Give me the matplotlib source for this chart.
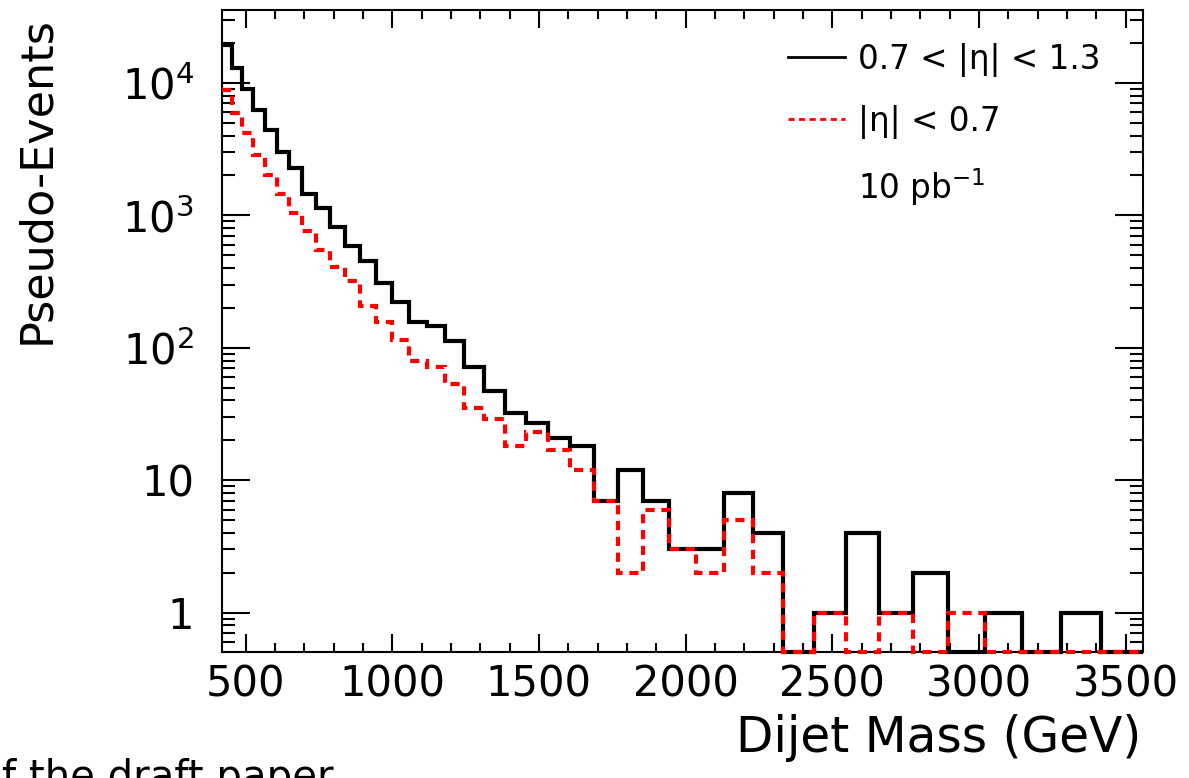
import numpy as np
import matplotlib
matplotlib.use("Agg")
import matplotlib.pyplot as plt
from matplotlib.lines import Line2D
from matplotlib.ticker import FixedLocator, MultipleLocator, LogLocator, NullFormatter

# dijet mass bin edges (GeV)
edges = [419, 453, 489, 526, 565, 606, 649, 693, 740, 788, 838, 890, 944, 1000,
         1058, 1118, 1181, 1246, 1313, 1383, 1455, 1530, 1607, 1687, 1770, 1856,
         1945, 2037, 2132, 2231, 2332, 2438, 2546, 2659, 2775, 2895, 3019, 3147,
         3279, 3416, 3558]

# 0.7 < |eta| < 1.3
outer = [19300, 12900, 8970, 6220, 4440, 3010, 2260, 1460, 1130, 818, 586, 454,
         306, 222, 157, 146, 112, 71, 47, 32, 27, 21, 18, 7, 12, 7, 3, 3, 8, 4,
         0, 1, 4, 1, 2, 0, 1, 0, 1, 0]
# |eta| < 0.7
inner = [8800, 5880, 4150, 2845, 2010, 1445, 1033, 764, 546, 404, 318, 207,
         156, 114, 80, 71, 53, 35, 29, 18, 23, 17, 12, 7, 2, 6, 3, 2, 5, 2,
         0, 1, 0, 1, 0, 1, 0, 0, 0, 0]

x_ticks = [500, 1000, 1500, 2000, 2500, 3000, 3500]
y_ticks = [1, 10, 100, 1000, 10000]
y_labels = ["1", "10", "$10^2$", "$10^3$", "$10^4$"]

YMIN, YMAX = 0.505, 35400

fig = plt.figure(figsize=(11.89, 7.78), dpi=100)
ax = fig.add_axes([0.1865, 0.162, 0.7745, 0.825])

# ROOT draws empty bins on the bottom of a log axis
ax.stairs(np.clip(outer, YMIN, None), edges, baseline=None, color="black",
          lw=3, clip_on=False, zorder=4)
ax.stairs(np.clip(inner, YMIN, None), edges, baseline=None, color="#ff0000",
          lw=3, linestyle=(0, (2.2, 1.6)), clip_on=False, zorder=5)

ax.set_yscale("log")
ax.set_xlim(edges[0], edges[-1])
ax.set_ylim(YMIN, YMAX)

ax.xaxis.set_major_locator(FixedLocator(x_ticks))
ax.xaxis.set_minor_locator(MultipleLocator(100))
ax.set_xticklabels([str(v) for v in x_ticks])
ax.yaxis.set_major_locator(FixedLocator(y_ticks))
ax.set_yticklabels(y_labels)
ax.yaxis.set_minor_locator(LogLocator(base=10, subs=np.arange(2, 10)))
ax.yaxis.set_minor_formatter(NullFormatter())

ax.tick_params(which="both", direction="in", top=True, right=True, width=1.5,
               colors="black")
ax.tick_params(axis="x", which="major", length=13, pad=8, labelsize=30)
ax.tick_params(axis="x", which="minor", length=6.5)
ax.tick_params(axis="y", which="major", length=20, pad=20, labelsize=30)
ax.tick_params(axis="y", which="minor", length=9.5)
for s in ax.spines.values():
    s.set_linewidth(1.5)

fig.text(37 / 1189, 1 - 180 / 778, "Pseudo-Events", rotation=90,
         ha="center", va="center", fontsize=32)
fig.text(1141 / 1189, 1 - 738 / 778, "Dijet Mass (GeV)", ha="right",
         va="center", fontsize=35)
fig.text(2 / 1189, 1 - 758 / 778, "f the draft paper", ha="left", va="top",
         fontsize=29)

handles = [Line2D([], [], color="black", lw=2),
           Line2D([], [], color="#ff0000", lw=2, linestyle=(0, (2.2, 1.6))),
           Line2D([], [], color="none")]
labels = ["0.7 < |η| < 1.3", "|η| < 0.7", r"10 pb$^{-1}$"]
ax.legend(handles, labels, loc="upper left", bbox_to_anchor=(0.615, 0.949),
          frameon=False, fontsize=23.5, handlelength=1.75, handletextpad=0.4,
          labelspacing=0.85, borderpad=0, borderaxespad=0)

fig.savefig("out.png", dpi=100)
